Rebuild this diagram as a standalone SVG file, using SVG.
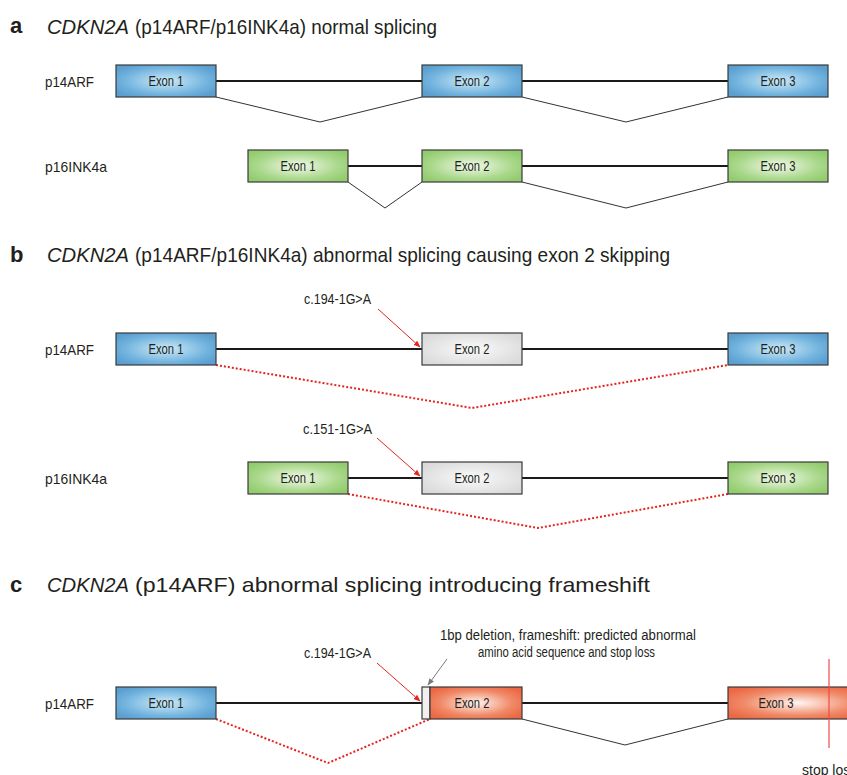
<svg xmlns="http://www.w3.org/2000/svg" width="847" height="775" viewBox="0 0 847 775">
<defs>
<radialGradient id="gBlue" cx="0.5" cy="0.5" r="0.6"><stop offset="0" stop-color="#cdebf8"/><stop offset="0.7" stop-color="#72b3de"/><stop offset="1" stop-color="#5a9fd0"/></radialGradient>
<radialGradient id="gGreen" cx="0.5" cy="0.5" r="0.6"><stop offset="0" stop-color="#f2faea"/><stop offset="0.7" stop-color="#a8d789"/><stop offset="1" stop-color="#93cc6f"/></radialGradient>
<radialGradient id="gGrey" cx="0.5" cy="0.5" r="0.6"><stop offset="0" stop-color="#fafafa"/><stop offset="1" stop-color="#dadada"/></radialGradient>
<radialGradient id="gOrange" cx="0.5" cy="0.5" r="0.6"><stop offset="0" stop-color="#fff6f2"/><stop offset="0.65" stop-color="#f08a68"/><stop offset="1" stop-color="#ec6844"/></radialGradient>
<marker id="arrRed" viewBox="0 0 10 10" refX="9" refY="5" markerWidth="7" markerHeight="7" orient="auto" markerUnits="userSpaceOnUse"><path d="M0,1 L10,5 L0,9 z" fill="#e3241f"/></marker>
<marker id="arrGrey" viewBox="0 0 10 10" refX="9" refY="5" markerWidth="7" markerHeight="7" orient="auto" markerUnits="userSpaceOnUse"><path d="M0,1 L10,5 L0,9 z" fill="#7a7a7a"/></marker>
</defs>
<style>
text{font-family:"Liberation Sans",Arial,sans-serif;fill:#231f20}
.panel{font-size:22px;font-weight:bold}
.title{font-size:21px}
.it{font-style:italic}
.lbl{font-size:14.5px}
.ex{font-size:14px;text-anchor:middle}
.note{font-size:14px}
.box{stroke:#3a3a3a;stroke-width:1.2}
.blue{fill:url(#gBlue)}
.green{fill:url(#gGreen)}
.grey{fill:url(#gGrey)}
.orange{fill:url(#gOrange)}
.intron{stroke:#1a1a1a;stroke-width:2;fill:none}
.splice{stroke:#333;stroke-width:1;fill:none}
.skip{stroke:#e3241f;stroke-width:2;stroke-dasharray:2 2;fill:none}
.mut{stroke:#e3241f;stroke-width:1;fill:none}
</style>

<g id="titles">
<text class="panel" x="10" y="33">a</text>
<text class="title it" x="47" y="34" textLength="82" lengthAdjust="spacingAndGlyphs">CDKN2A</text>
<text class="title" x="135" y="34" textLength="302" lengthAdjust="spacingAndGlyphs">(p14ARF/p16INK4a) normal splicing</text>
<text class="panel" x="10" y="262">b</text>
<text class="title it" x="47" y="262" textLength="82" lengthAdjust="spacingAndGlyphs">CDKN2A</text>
<text class="title" x="135" y="262" textLength="535" lengthAdjust="spacingAndGlyphs">(p14ARF/p16INK4a) abnormal splicing causing exon 2 skipping</text>
<text class="panel" x="10" y="592">c</text>
<text class="title it" x="47" y="592" textLength="82" lengthAdjust="spacingAndGlyphs">CDKN2A</text>
<text class="title" x="135" y="592" textLength="515" lengthAdjust="spacingAndGlyphs">(p14ARF) abnormal splicing introducing frameshift</text>
</g>

<g id="connectors">
<line class="intron" x1="216" y1="81" x2="422" y2="81"/>
<line class="intron" x1="522" y1="81" x2="728" y2="81"/>
<polyline class="splice" points="216,97 320,122 422,97"/>
<polyline class="splice" points="522,97 626,122 728,97"/>
<line class="intron" x1="348" y1="166" x2="422" y2="166"/>
<line class="intron" x1="522" y1="166" x2="728" y2="166"/>
<polyline class="splice" points="348,182 385,208 422,182"/>
<polyline class="splice" points="522,182 626,208 728,182"/>
<line class="intron" x1="216" y1="349" x2="422" y2="349" stroke-width="2.4"/>
<line class="intron" x1="522" y1="349" x2="728" y2="349"/>
<polyline class="skip" points="216,365 472,408 728,365"/>
<line class="mut" x1="378" y1="309" x2="420" y2="347" marker-end="url(#arrRed)"/>
<line class="intron" x1="348" y1="478" x2="422" y2="478" stroke-width="2.4"/>
<line class="intron" x1="522" y1="478" x2="728" y2="478"/>
<polyline class="skip" points="348,494 538,528 728,494"/>
<line class="mut" x1="377" y1="438" x2="420" y2="476" marker-end="url(#arrRed)"/>
<line class="intron" x1="216" y1="703" x2="422" y2="703"/>
<line class="intron" x1="522" y1="703" x2="728" y2="703"/>
<polyline class="skip" points="216,719 328,763 430,719"/>
<polyline class="splice" points="522,719 625,745 728,719"/>
<line class="mut" x1="377" y1="663" x2="420" y2="701" marker-end="url(#arrRed)"/>
<line x1="447" y1="659" x2="428" y2="685" stroke="#7a7a7a" stroke-width="1" marker-end="url(#arrGrey)"/>
</g>

<g id="a-p14ARF">
<text class="lbl" x="45" y="87" textLength="49" lengthAdjust="spacingAndGlyphs">p14ARF</text>
<g id="a-p14-ex1"><rect class="box blue" x="116" y="65" width="100" height="32"/><text class="ex" x="166" y="86" textLength="35" lengthAdjust="spacingAndGlyphs">Exon 1</text></g>
<g id="a-p14-ex2"><rect class="box blue" x="422" y="65" width="100" height="32"/><text class="ex" x="472" y="86" textLength="35" lengthAdjust="spacingAndGlyphs">Exon 2</text></g>
<g id="a-p14-ex3"><rect class="box blue" x="728" y="65" width="100" height="32"/><text class="ex" x="778" y="86" textLength="35" lengthAdjust="spacingAndGlyphs">Exon 3</text></g>
</g>

<g id="a-p16INK4a">
<text class="lbl" x="45" y="172" textLength="62" lengthAdjust="spacingAndGlyphs">p16INK4a</text>
<g id="a-p16-ex1"><rect class="box green" x="248" y="150" width="100" height="32"/><text class="ex" x="298" y="171" textLength="35" lengthAdjust="spacingAndGlyphs">Exon 1</text></g>
<g id="a-p16-ex2"><rect class="box green" x="422" y="150" width="100" height="32"/><text class="ex" x="472" y="171" textLength="35" lengthAdjust="spacingAndGlyphs">Exon 2</text></g>
<g id="a-p16-ex3"><rect class="box green" x="728" y="150" width="100" height="32"/><text class="ex" x="778" y="171" textLength="35" lengthAdjust="spacingAndGlyphs">Exon 3</text></g>
</g>

<g id="b-p14ARF">
<text class="lbl" x="45" y="355" textLength="49" lengthAdjust="spacingAndGlyphs">p14ARF</text>
<text class="note" x="304" y="304" textLength="67" lengthAdjust="spacingAndGlyphs">c.194-1G&gt;A</text>
<g id="b-p14-ex1"><rect class="box blue" x="116" y="333" width="100" height="32"/><text class="ex" x="166" y="354" textLength="35" lengthAdjust="spacingAndGlyphs">Exon 1</text></g>
<g id="b-p14-ex2"><rect class="box grey" x="422" y="333" width="100" height="32"/><text class="ex" x="472" y="354" textLength="35" lengthAdjust="spacingAndGlyphs">Exon 2</text></g>
<g id="b-p14-ex3"><rect class="box blue" x="728" y="333" width="100" height="32"/><text class="ex" x="778" y="354" textLength="35" lengthAdjust="spacingAndGlyphs">Exon 3</text></g>
</g>

<g id="b-p16INK4a">
<text class="lbl" x="45" y="484" textLength="62" lengthAdjust="spacingAndGlyphs">p16INK4a</text>
<text class="note" x="303" y="434" textLength="69" lengthAdjust="spacingAndGlyphs">c.151-1G&gt;A</text>
<g id="b-p16-ex1"><rect class="box green" x="248" y="462" width="100" height="32"/><text class="ex" x="298" y="483" textLength="35" lengthAdjust="spacingAndGlyphs">Exon 1</text></g>
<g id="b-p16-ex2"><rect class="box grey" x="422" y="462" width="100" height="32"/><text class="ex" x="472" y="483" textLength="35" lengthAdjust="spacingAndGlyphs">Exon 2</text></g>
<g id="b-p16-ex3"><rect class="box green" x="728" y="462" width="100" height="32"/><text class="ex" x="778" y="483" textLength="35" lengthAdjust="spacingAndGlyphs">Exon 3</text></g>
</g>

<g id="c-p14ARF">
<text class="lbl" x="45" y="709" textLength="49" lengthAdjust="spacingAndGlyphs">p14ARF</text>
<text class="note" x="304" y="658" textLength="67" lengthAdjust="spacingAndGlyphs">c.194-1G&gt;A</text>
<text class="note" x="440" y="640" textLength="256" lengthAdjust="spacingAndGlyphs">1bp deletion, frameshift: predicted abnormal</text>
<text class="note" x="478" y="657" textLength="177" lengthAdjust="spacingAndGlyphs">amino acid sequence and stop loss</text>
<g id="c-p14-ex1"><rect class="box blue" x="116" y="687" width="100" height="32"/><text class="ex" x="166" y="708" textLength="35" lengthAdjust="spacingAndGlyphs">Exon 1</text></g>
<g id="c-p14-del"><rect class="box" fill="#f0f0f0" x="422" y="687" width="8" height="32"/></g>
<g id="c-p14-ex2"><rect class="box orange" x="430" y="687" width="92" height="32"/><text class="ex" x="472" y="708" textLength="35" lengthAdjust="spacingAndGlyphs">Exon 2</text></g>
<g id="c-p14-ex3"><rect class="box orange" x="728" y="687" width="140" height="32"/><text class="ex" x="776" y="708" textLength="35" lengthAdjust="spacingAndGlyphs">Exon 3</text></g>
<g id="c-stoploss"><line x1="829" y1="659" x2="829" y2="748" stroke="#ef4a4a" stroke-width="1.2"/><text class="note" x="802" y="775">stop loss</text></g>
</g>
</svg>
